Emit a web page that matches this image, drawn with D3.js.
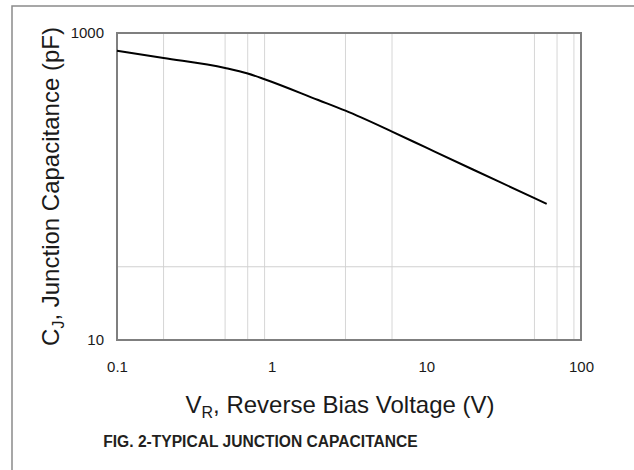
<!DOCTYPE html>
<html>
<head>
<meta charset="utf-8">
<script src="https://cdn.jsdelivr.net/npm/d3@7"></script>
<style>
  body { margin: 0; background: #fff; }
  svg { display: block; font-family: Arial, "Liberation Sans", sans-serif; }
</style>
</head>
<body>
<svg id="chart" width="634" height="470"></svg>
<script>
// reverse voltage (V) and junction capacitance (pF)
var voltage = [0.1, 0.2, 0.5, 0.7, 0.9, 2, 3, 6, 10, 20, 50, 60];
var capacitance = [767, 688, 592, 545, 500, 366, 312, 228, 179, 129, 84, 77];

var xTicks = [0.1, 1, 10, 100];
var yTicks = [10, 1000];
var xGrid = [0.2, 0.5, 0.7, 0.9, 3, 6, 50, 70, 90];
var yGrid = [30];

var svg = d3.select("#chart");

// outer frame (runs off the page on the right and bottom)
svg.append("rect")
    .attr("x", 12).attr("y", 6)
    .attr("width", 640).attr("height", 480)
    .attr("fill", "none")
    .attr("stroke", "#8a8a8a")
    .attr("stroke-width", 1.5);

var margin = {top: 33, right: 53, bottom: 130, left: 117},
    width = 634 - margin.left - margin.right,
    height = 470 - margin.top - margin.bottom;

var x = d3.scaleLog().domain([0.1, 100]).range([0, width]),
    y = d3.scaleLog().domain([10, 1000]).range([height, 0]);

var g = svg.append("g")
    .attr("transform", "translate(" + margin.left + "," + margin.top + ")");

// grid lines
g.selectAll(".vgrid")
  .data(xGrid)
  .enter().append("line")
    .attr("class", "vgrid")
    .attr("x1", function(d) { return x(d); })
    .attr("x2", function(d) { return x(d); })
    .attr("y1", 0).attr("y2", height)
    .attr("stroke", "#d6d6d6")
    .attr("stroke-width", 1);

g.selectAll(".hgrid")
  .data(yGrid)
  .enter().append("line")
    .attr("class", "hgrid")
    .attr("x1", 0).attr("x2", width)
    .attr("y1", function(d) { return y(d); })
    .attr("y2", function(d) { return y(d); })
    .attr("stroke", "#d0d0d0")
    .attr("stroke-width", 1);

// plot border
g.append("rect")
    .attr("width", width).attr("height", height)
    .attr("fill", "none")
    .attr("stroke", "#7f7f7f")
    .attr("stroke-width", 2);

// axes (labels only)
var xAxis = g.append("g")
    .attr("transform", "translate(0," + height + ")")
    .call(d3.axisBottom(x).tickValues(xTicks).tickSize(0).tickPadding(21)
      .tickFormat(function(d) { return String(d); }));
var yAxis = g.append("g")
    .call(d3.axisLeft(y).tickValues(yTicks).tickSize(0).tickPadding(13)
      .tickFormat(function(d) { return String(d); }));

[xAxis, yAxis].forEach(function(a) {
  a.select(".domain").remove();
  a.attr("font-size", 15).attr("font-family", "Arial, 'Liberation Sans', sans-serif");
  a.selectAll("text")
    .attr("fill", "#1a1a1a");
});

// the curve
var line = d3.line()
    .x(function(d, i) { return x(voltage[i]); })
    .y(function(d) { return y(d); })
    .curve(d3.curveMonotoneX);

g.append("path")
    .datum(capacitance)
    .attr("fill", "none")
    .attr("stroke", "#000")
    .attr("stroke-width", 2)
    .attr("d", line);

// y title
var yt = svg.append("text")
    .attr("transform", "translate(59," + (margin.top + height / 2) + ") rotate(-90)")
    .attr("text-anchor", "middle")
    .attr("font-size", 24)
    .attr("fill", "#1a1a1a");
yt.append("tspan").text("C");
yt.append("tspan").attr("font-size", 16).attr("dy", 5).text("J");
yt.append("tspan").attr("dy", -5).text(", Junction Capacitance (pF)");

// x title
var xt = svg.append("text")
    .attr("x", 340).attr("y", 413)
    .attr("text-anchor", "middle")
    .attr("font-size", 24)
    .attr("fill", "#1a1a1a");
xt.append("tspan").text("V");
xt.append("tspan").attr("font-size", 16).attr("dy", 5).text("R");
xt.append("tspan").attr("dy", -5).text(", Reverse Bias Voltage (V)");

// caption
svg.append("text")
    .attr("x", 260.5).attr("y", 446.7)
    .attr("text-anchor", "middle")
    .attr("font-size", 15.6)
    .attr("font-weight", "bold")
    .attr("fill", "#231f20")
    .text("FIG. 2-TYPICAL JUNCTION CAPACITANCE");
</script>
</body>
</html>
